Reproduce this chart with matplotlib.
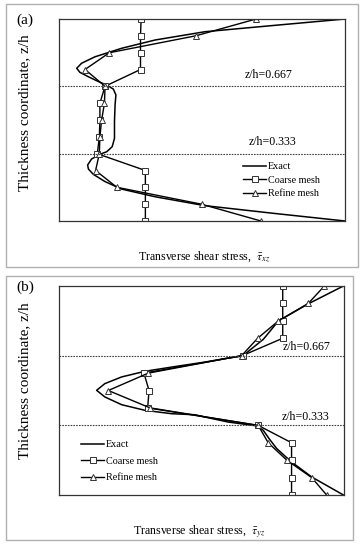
import matplotlib
matplotlib.use("Agg")
import matplotlib.pyplot as plt
from matplotlib.patches import Rectangle

plt.rcParams['font.family'] = ['Liberation Serif', 'DejaVu Serif']
plt.rcParams['mathtext.fontset'] = 'stix'

W, H = 364, 550

# node levels z/h (13 nodes through the thickness)
z_nodes = [0.0, 0.083, 0.167, 0.25, 0.333, 0.417, 0.5, 0.583, 0.667, 0.75, 0.833, 0.917, 1.0]

# (a) transverse shear stress tau_xz, x in relative units (0..1 across the axes)
exact_a_x = [1.0, 0.75, 0.51, 0.336, 0.219, 0.126, 0.079, 0.062, 0.073, 0.103, 0.138, 0.167, 0.19,
             0.199, 0.196, 0.194, 0.194, 0.186, 0.167, 0.143, 0.114, 0.100, 0.103, 0.12, 0.161,
             0.219, 0.336, 0.51, 0.75, 1.0]
exact_a_z = [1.0, 0.968, 0.937, 0.896, 0.855, 0.813, 0.781, 0.756, 0.736, 0.714, 0.690, 0.673, 0.653,
             0.624, 0.574, 0.492, 0.409, 0.368, 0.343, 0.330, 0.307, 0.277, 0.257, 0.231, 0.195,
             0.158, 0.120, 0.076, 0.038, 0.0]
coarse_a = [0.302, 0.302, 0.302, 0.302, 0.134, 0.141, 0.143, 0.143, 0.161, 0.285, 0.285, 0.285, 0.287]
refine_a = [0.706, 0.499, 0.202, 0.128, 0.141, 0.143, 0.149, 0.159, 0.161, 0.091, 0.176, 0.479, 0.689]

# (b) transverse shear stress tau_yz
exact_b_x = [0.998, 0.875, 0.770, 0.717, 0.676, 0.644, 0.588, 0.512, 0.395, 0.302, 0.220, 0.161, 0.132,
             0.161, 0.220, 0.302, 0.395, 0.477, 0.512, 0.594, 0.699, 0.717, 0.737, 0.764, 0.816,
             0.887, 0.998]
exact_b_z = [1.0, 0.915, 0.833, 0.745, 0.700, 0.665, 0.654, 0.636, 0.612, 0.592, 0.565, 0.533, 0.501,
             0.469, 0.432, 0.405, 0.389, 0.384, 0.373, 0.349, 0.330, 0.309, 0.270, 0.222, 0.158,
             0.086, 0.0]
coarse_b = [0.816, 0.816, 0.816, 0.816, 0.699, 0.311, 0.316, 0.298, 0.644, 0.785, 0.785, 0.785, 0.785]
refine_b = [0.939, 0.887, 0.799, 0.734, 0.699, 0.319, 0.173, 0.313, 0.641, 0.697, 0.770, 0.875, 0.931]

interfaces = [0.333, 0.667]

fig = plt.figure(figsize=(W / 100, H / 100), dpi=100)


def fx(px):
    return px / W


def fy(py):
    return 1 - py / H


def panel(box, rect, exact_x, exact_z, coarse, refine, tag, sub, yl_y, xl, lab667, lab333, leg):
    # gray frame around each sub-figure
    bx0, by0, bx1, by1 = box
    fig.patches.append(Rectangle((fx(bx0), fy(by1)), fx(bx1 - bx0), (by1 - by0) / H,
                                 transform=fig.transFigure, fill=False,
                                 edgecolor='#b0b0b0', linewidth=1.0))
    l, t, r, b = rect
    ax = fig.add_axes([fx(l), fy(b), fx(r - l), (b - t) / H])
    ax.plot(exact_x, exact_z, color='black', lw=1.1, label='Exact')
    ax.plot(coarse, z_nodes, color='black', lw=1.0, marker='s', ms=4,
            mfc='white', mec='#333333', mew=0.7, label='Coarse mesh')
    ax.plot(refine, z_nodes, color='black', lw=1.0, marker='^', ms=5,
            mfc='white', mec='#333333', mew=0.7, label='Refine mesh')
    for zi in interfaces:
        ax.axhline(zi, color='#444444', lw=0.8, ls=(0, (1.5, 1)))
    ax.set_xlim(0, 1)
    ax.set_ylim(0, 1)
    ax.set_xticks([])
    ax.set_yticks([])
    for s in ax.spines.values():
        s.set_linewidth(0.9)
        s.set_color('#333333')

    fig.text(fx(16), fy(tag[1]), tag[0], fontsize=11, ha='left', va='center')
    fig.text(fx(25), fy(yl_y), 'Thickness coordinate, z/h', fontsize=11,
             rotation=90, ha='center', va='center')
    fig.text(fx(xl[0]), fy(xl[1]), 'Transverse shear stress,  ' + r'$\bar{\tau}_{' + sub + '}$',
             fontsize=8.6, ha='left', va='center')
    fig.text(fx(lab667[0]), fy(lab667[1]), 'z/h=0.667', fontsize=8.6, ha='left', va='center')
    fig.text(fx(lab333[0]), fy(lab333[1]), 'z/h=0.333', fontsize=8.6, ha='left', va='center')

    ax.legend(loc='upper left', bbox_to_anchor=(fx(leg[0]), fy(leg[1])),
              bbox_transform=fig.transFigure, frameon=False, fontsize=7.3,
              handlelength=2.3, handletextpad=0.15, labelspacing=leg[2],
              borderpad=0, borderaxespad=0)
    return ax


panel((6, 4, 358, 267), (59, 19, 345, 221), exact_a_x, exact_a_z, coarse_a, refine_a,
      ('(a)', 20), 'xz', 113, (138, 257), (245, 75), (249, 142), (243, 162, 0.45))
panel((6, 276, 353, 540), (59, 286, 344, 495), exact_b_x, exact_b_z, coarse_b, refine_b,
      ('(b)', 287), 'yz', 381, (133, 532), (283, 347), (282, 417), (81, 440, 0.75))

fig.savefig('out.png', dpi=100)
